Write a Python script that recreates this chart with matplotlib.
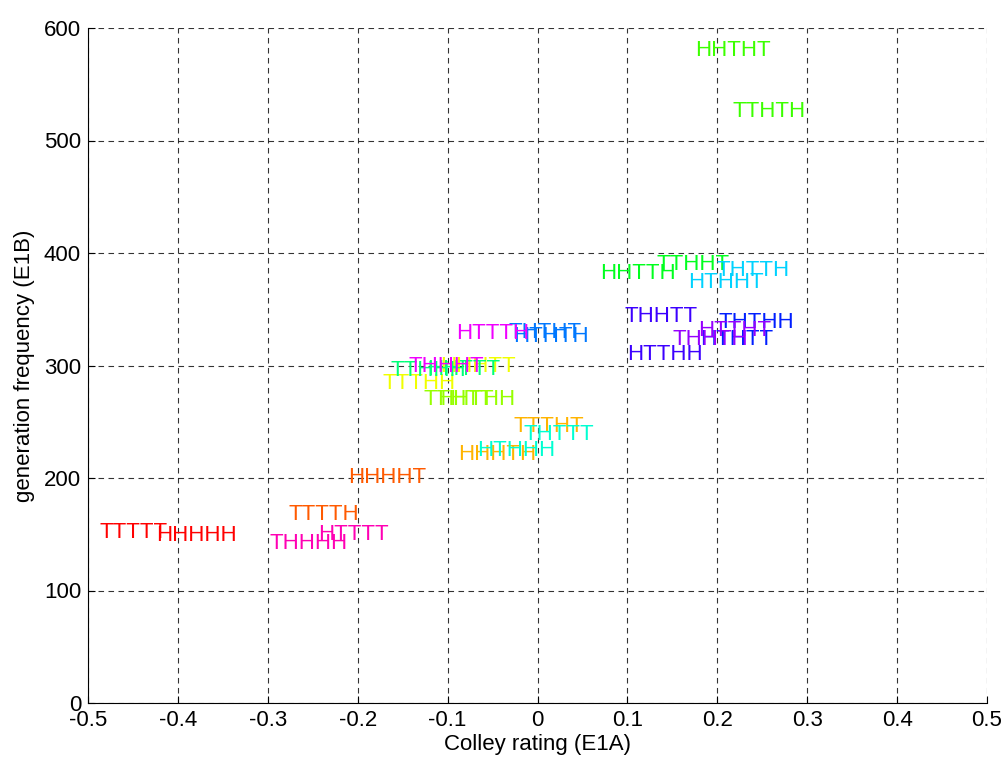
import colorsys
import matplotlib
matplotlib.use("Agg")
import matplotlib.pyplot as plt

# five-flip sequences, their Colley rating (E1A) and generation frequency (E1B)
seqs = [
    "TTTTT", "HHHHH", "THHHH", "HTTTT", "TTTTH", "HHHHT",
    "HHHTH", "TTTHT", "HHHTT", "TTTHH", "TTHTT", "HHTHH",
    "HHTHT", "TTHTH", "HHTTH", "TTHHT", "TTHHH", "HHTTT",
    "HTHHH", "THTTT", "HTHHT", "THTTH", "HTHTH", "THTHT",
    "HTHTT", "THTHH", "HTTHH", "THHTT", "HTTHT", "THHTH",
    "HTTTH", "THHHT",
]
colley = [
    -0.487, -0.424, -0.298, -0.244, -0.277, -0.211,
    -0.088, -0.027, -0.108, -0.172, -0.127, -0.112,
    0.175, 0.217, 0.070, 0.132, -0.163, -0.123,
    -0.067, -0.016, 0.168, 0.199, -0.027, -0.032,
    0.181, 0.201, 0.100, 0.097, 0.179, 0.150,
    -0.090, -0.144,
]
freq = [
    154, 151, 144, 152, 170, 203,
    223, 248, 301, 286, 272, 272,
    582, 528, 384, 392, 298, 299,
    227, 241, 376, 387, 328, 332,
    325, 340, 312, 346, 333, 325,
    331, 301,
]

plt.rcParams['font.family'] = ['Liberation Sans', 'DejaVu Sans']

fig = plt.figure(figsize=(10.02, 7.62), dpi=100)
ax = fig.add_axes([88 / 1002, 59 / 762, 899 / 1002, 675 / 762])

for s, x, y in zip(seqs, colley, freq):
    # a sequence and its complement share one colour (hsv map, 17 steps)
    canon = s if s[0] == "H" else "".join("H" if c == "T" else "T" for c in s)
    k = int(canon.replace("H", "0").replace("T", "1"), 2)
    col = colorsys.hsv_to_rgb(k / 17.0, 1.0, 1.0)
    ax.text(x, y, s, color=col, fontsize=16, ha='left', va='center_baseline')

ax.set_xlim(-0.5, 0.5)
ax.set_ylim(0, 600)
ax.set_xticks([-0.5, -0.4, -0.3, -0.2, -0.1, 0, 0.1, 0.2, 0.3, 0.4, 0.5])
ax.set_xticklabels(["-0.5", "-0.4", "-0.3", "-0.2", "-0.1", "0", "0.1", "0.2", "0.3", "0.4", "0.5"])
ax.set_yticks([0, 100, 200, 300, 400, 500, 600])

ax.grid(True, color='black', linestyle=(0, (5, 4)), linewidth=0.8, alpha=0.8)
ax.set_axisbelow(True)
for side in ['top', 'right']:
    ax.spines[side].set_visible(False)
for side in ['left', 'bottom']:
    ax.spines[side].set_linewidth(0.8)
ax.tick_params(direction='in', length=5, width=0.8, labelsize=16, pad=5)

ax.set_xlabel('Colley rating (E1A)', fontsize=16, labelpad=2)
ax.set_ylabel('generation frequency (E1B)', fontsize=16, labelpad=6)

fig.savefig('out.png', dpi=100)
